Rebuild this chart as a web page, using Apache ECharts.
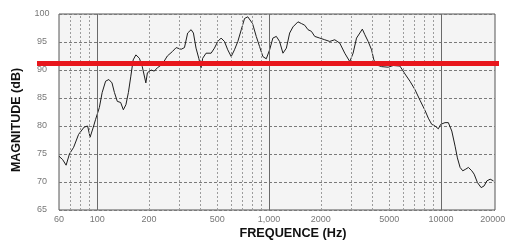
<!DOCTYPE html>
<html><head><meta charset="utf-8">
<script src="https://cdn.jsdelivr.net/npm/echarts@6/dist/echarts.min.js"></script>
<style>html,body{margin:0;padding:0;background:#fff}#c{width:507px;height:242px}</style>
</head><body><div id="c"></div>
<script>
const freqHz = [60,63,66,69,73,78,84,88,91,95,98,103,107,112,117,122,126,131,137,142,147,152,157,162,168,176,183,192,196,206,215,224,239,256,274,288,308,322,336,352,363,376,390,402,411,430,460,481,503,526,550,575,602,629,658,689,720,752,801,842,880,920,963,1007,1052,1102,1151,1204,1260,1317,1377,1472,1541,1611,1684,1763,1842,1970,2107,2253,2409,2577,2755,2947,3080,3225,3371,3486,3606,3769,3945,4068,4217,4511,4928,5272,5768,6168,6595,7053,7543,8066,8433,8827,9226,9645,9960,10550,11030,11550,12070,12450,12910,13380,13930,14430,15100,15580,16280,17110,17810,18470,19310,20180];
const magnitudeDb = [74.6,74.0,73.0,75.0,76.2,78.5,79.8,80.0,78.0,79.8,81.2,83.3,86.0,88.0,88.3,87.7,86.0,84.4,84.2,82.9,83.8,86.0,88.9,91.8,92.7,92.1,90.6,87.7,89.5,90.0,89.8,90.4,91.0,92.5,93.3,94.0,93.7,94.0,96.6,97.2,96.6,93.9,92.1,90.4,92.1,93.0,93.0,93.9,95.1,95.7,95.1,93.6,92.4,93.6,95.1,97.2,99.2,99.5,98.3,96.0,94.2,92.4,92.0,93.6,95.7,96.0,95.1,93.0,93.9,96.6,97.7,98.6,98.3,98.0,97.2,96.9,96.0,95.7,95.4,95.1,95.4,94.8,93.0,91.5,93.0,95.7,96.6,97.3,96.3,95.1,93.6,91.8,90.9,90.6,90.5,90.8,90.7,89.3,88.0,86.5,84.6,82.8,81.4,80.3,80.0,79.5,80.3,80.6,80.6,79.1,76.4,74.3,72.6,72.0,72.3,72.6,72.0,71.4,69.9,69.0,69.3,70.2,70.5,70.2];
const xTickValues = [60,100,200,500,1000,2000,5000,10000,20000];
const xTickText = ['60','100','200','500','1,000','2000','5000','10000','20000'];
const majorGridHz = [100,1000,10000];
const minorGridHz = [70,80,90,200,300,400,500,600,700,800,900,2000,3000,4000,5000,6000,7000,8000,9000];
const yMin = 65, yMax = 100, yStep = 5;
const referenceLevelDb = 91.2;
const xTitle = 'FREQUENCE (Hz)';
const yTitle = 'MAGNITUDE (dB)';

const chart = echarts.init(document.getElementById('c'), null, {renderer:'canvas', width:507, height:242});
const curve = freqHz.map((f,i)=>[f, magnitudeDb[i]]);
const gridLines = [
  ...minorGridHz.map(v=>({xAxis:v, lineStyle:{color:'#9c9c9c', type:[2,2], width:1}})),
  ...majorGridHz.map(v=>({xAxis:v, lineStyle:{color:'#6a6a6a', type:'solid', width:1}}))
];
const labelLines = xTickValues.map((v,i)=>({xAxis:v, label:{formatter:xTickText[i]}}));

chart.setOption({
  animation:false,
  grid:[
    {left:59, right:12, top:14, bottom:32, show:true, backgroundColor:'#f4f4f4', borderColor:'#555', borderWidth:1},
    {left:37, right:8, top:14, bottom:32, show:false}
  ],
  xAxis:[
    {type:'log', logBase:10, min:60, max:20600, axisLine:{show:false}, axisTick:{show:false}, axisLabel:{show:false}, splitLine:{show:false}},
    {type:'value', gridIndex:1, min:0, max:1, show:false}
  ],
  yAxis:[
    {type:'value', min:yMin, max:yMax, interval:yStep, axisLine:{show:false}, axisTick:{show:false},
     axisLabel:{color:'#777', fontSize:9, fontFamily:'Liberation Sans', align:'center', margin:17},
     splitLine:{lineStyle:{color:'#7a7a7a', type:[3,2], width:1}}},
    {type:'value', gridIndex:1, min:yMin, max:yMax, show:false}
  ],
  series:[
    {type:'line', data:[], z:1, markLine:{silent:true, symbol:'none', animation:false, label:{show:false}, data:gridLines}},
    {type:'line', data:[], z:1, markLine:{silent:true, symbol:'none', animation:false,
      lineStyle:{color:'rgba(0,0,0,0)', width:1},
      label:{show:true, position:'start', distance:5, color:'#777', fontSize:9, fontFamily:'Liberation Sans'}, data:labelLines}},
    {type:'line', data:curve, symbol:'none', showSymbol:false, lineStyle:{color:'#1e1e1e', width:1}, z:3},
    {type:'line', xAxisIndex:1, yAxisIndex:1, data:[], z:5, markLine:{silent:true, symbol:'none', animation:false,
      label:{show:false}, lineStyle:{color:'#e8161c', width:5, type:'solid', opacity:1}, data:[{yAxis:referenceLevelDb}]}}
  ],
  graphic:[
    {type:'text', x:293, y:233, style:{text:xTitle, font:'bold 12.7px "Liberation Sans"', fill:'#111', align:'center', verticalAlign:'middle'}},
    {type:'text', x:17, y:120, rotation:Math.PI/2, style:{text:yTitle, font:'bold 12.5px "Liberation Sans"', fill:'#111', align:'center', verticalAlign:'middle'}}
  ]
});
</script></body></html>
